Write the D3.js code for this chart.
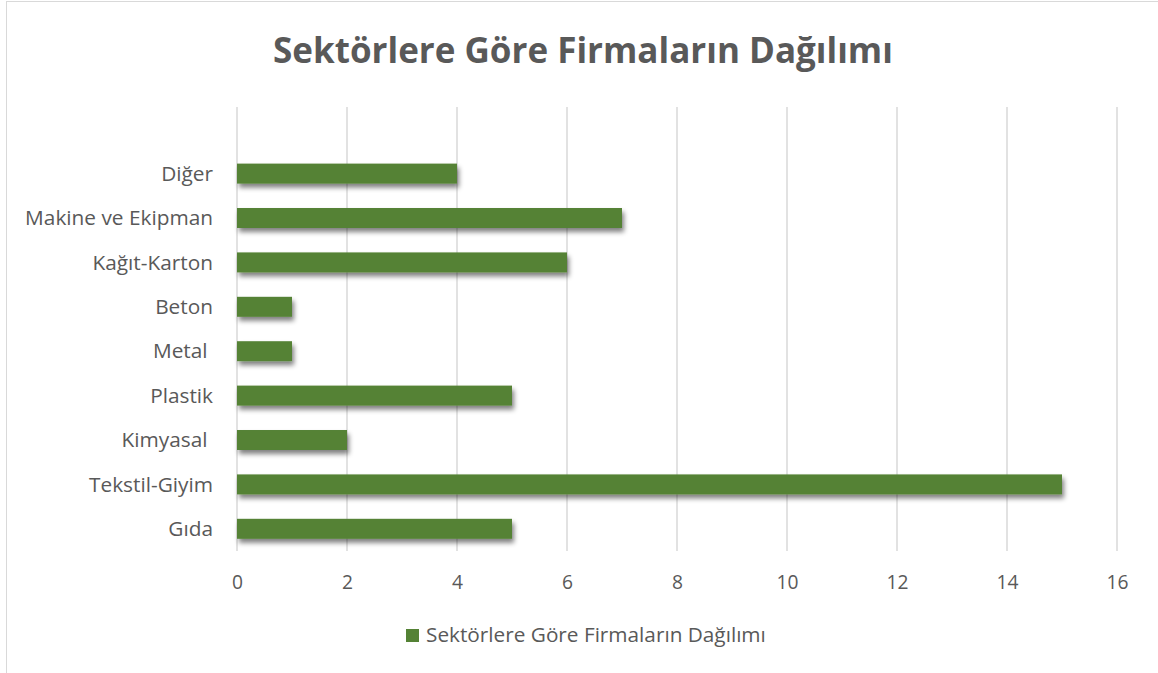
<!DOCTYPE html>
<html><head><meta charset="utf-8">
<script src="https://cdn.jsdelivr.net/npm/d3@7"></script>
<style>body{margin:0;background:#fff}svg{display:block}text{white-space:pre}</style>
</head><body>
<svg id="c" width="1158" height="673"></svg>
<script>
const categories = ["Gıda","Tekstil-Giyim","Kimyasal ","Plastik","Metal ","Beton","Kağıt-Karton","Makine ve Ekipman","Diğer",""];
const values = [5,15,2,5,1,1,6,7,4,null];
const xTicks = [0,2,4,6,8,10,12,14,16];
const title = "Sektörlere Göre Firmaların Dağılımı";
const seriesName = "Sektörlere Göre Firmaların Dağılımı";

const svg = d3.select("#c");
const font = "'Open Sans', sans-serif";
const grey = "#595959";

const defs = svg.append("defs");
const f = defs.append("filter").attr("id","sh").attr("x","-10%").attr("y","-50%").attr("width","130%").attr("height","250%");
f.append("feGaussianBlur").attr("in","SourceAlpha").attr("stdDeviation",2.5);
f.append("feOffset").attr("dx",2).attr("dy",3.5).attr("result","ob");
f.append("feComponentTransfer").append("feFuncA").attr("type","linear").attr("slope",0.5);
const m = f.append("feMerge"); m.append("feMergeNode"); m.append("feMergeNode").attr("in","SourceGraphic");

svg.append("rect").attr("x",6.5).attr("y",1.5).attr("width",1160).attr("height",680)
  .attr("fill","#fff").attr("stroke","#d9d9d9").attr("stroke-width",1);

const x = d3.scaleLinear().domain([0,16]).range([237,1117]);
const y = d3.scaleBand().domain(d3.range(categories.length)).range([551,107]).paddingInner(0.55).paddingOuter(0.275);

// gridlines
svg.append("g").selectAll("line").data(xTicks).join("line")
  .attr("x1",d=>x(d)).attr("x2",d=>x(d)).attr("y1",107).attr("y2",551)
  .attr("stroke","#d9d9d9").attr("stroke-width",1.5);

// bars
svg.append("g").attr("filter","url(#sh)").selectAll("rect").data(values.map((v,i)=>({v,i})).filter(d=>d.v!=null)).join("rect")
  .attr("x",x(0)).attr("y",d=>y(d.i)).attr("width",d=>x(d.v)-x(0)).attr("height",y.bandwidth())
  .attr("fill","#548235");

// x axis
const xa = d3.axisBottom(x).tickValues(xTicks).tickSize(0).tickPadding(0);
const gx = svg.append("g").attr("transform","translate(0,589)").call(xa);
gx.select(".domain").remove();
gx.attr("font-size",null).attr("font-family",null);
const xt = gx.selectAll("text").attr("font-family",font).attr("font-size",18).attr("fill",grey).attr("dy",0);
const w16 = xt.filter(d=>d===16).node().getComputedTextLength();
xt.attr("font-size",18*22/w16);

// y axis
const ya = d3.axisLeft(y).tickFormat(i=>categories[i]).tickSize(0).tickPadding(0);
const gy = svg.append("g").attr("transform","translate(213,0)").call(ya);
gy.select(".domain").remove();
gy.attr("font-size",null).attr("font-family",null);
const yt = gy.selectAll("text").attr("font-family",font).attr("font-size",18).attr("fill",grey).attr("dy","0.35em").attr("xml:space","preserve");
const wm = yt.filter(i=>categories[i]==="Makine ve Ekipman").node().getComputedTextLength();
yt.attr("font-size",18*188/wm);

// title
const t = svg.append("text").attr("x",583).attr("y",63).attr("text-anchor","middle")
  .attr("font-family",font).attr("font-weight","bold").attr("font-size",32).attr("fill",grey).text(title);
const tw = t.node().getComputedTextLength();
t.attr("font-size",32*620/tw);

// legend
svg.append("rect").attr("x",406).attr("y",629).attr("width",13).attr("height",13).attr("fill","#548235");
const lt = svg.append("text").attr("x",426).attr("y",642).attr("font-family",font).attr("font-size",17).attr("fill",grey).text(seriesName);
const lw = lt.node().getComputedTextLength();
lt.attr("font-size",17*340/lw);
</script>
</body></html>
